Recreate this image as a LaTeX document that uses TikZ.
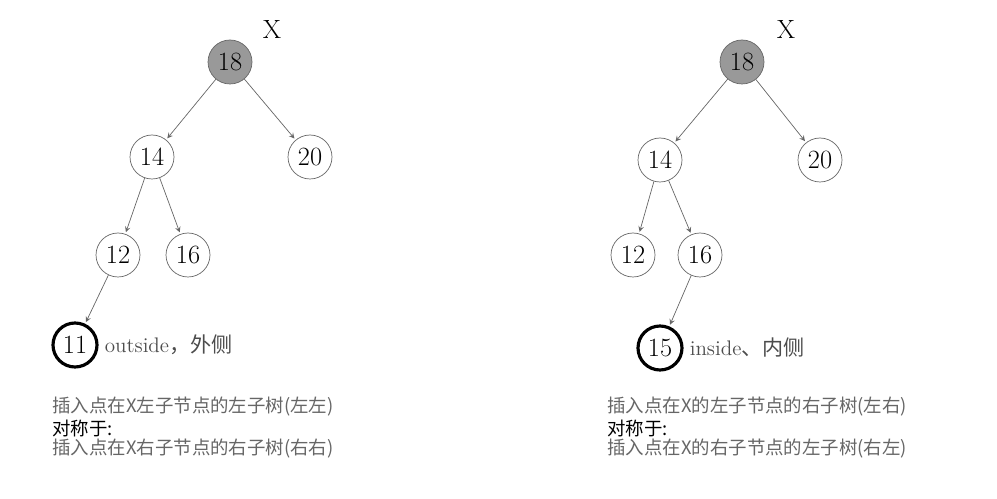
\documentclass[tikz,border=0pt]{standalone}
\usepackage{fontspec}
\newfontfamily\cjk{Noto Sans CJK SC}
\begin{document}
\begin{tikzpicture}[x=0.02cm,y=-0.02cm,
    key/.style={circle, draw=black!60, minimum size=0.88cm, inner sep=0pt, font=\fontsize{15}{15}\selectfont},
    root/.style={key, fill=black!40},
    new/.style={key, draw=black, line width=1.8pt},
    edge/.style={->, >=stealth, black!60, shorten >=1pt},
    note/.style={anchor=west, font=\fontsize{12}{12}\selectfont, text=black!70},
    rule/.style={anchor=west, inner sep=0pt, font=\cjk\fontsize{10.5}{10.5}\selectfont, text=black!60}]
    \useasboundingbox (0,0) rectangle (997,499);
    % Left tree: outside case
    \node[root] (L18) at (230,62) {18};
    \node[key] (L14) at (152,157) {14};
    \node[key] (L20) at (310,157) {20};
    \node[key] (L12) at (118,255) {12};
    \node[key] (L16) at (188,255) {16};
    \node[new] (L11) at (75,345) {11};
    \node[font=\fontsize{15}{15}\selectfont] (LX) at (272,30) {X};
    \node[note] (Lnote) at (L11.east) {outside\cjk，外侧};

    \draw[edge] (L18) -- (L14);
    \draw[edge] (L18) -- (L20);
    \draw[edge] (L14) -- (L12);
    \draw[edge] (L14) -- (L16);
    \draw[edge] (L12) -- (L11);

    % Right tree: inside case
    \node[root] (R18) at (742,62) {18};
    \node[key] (R14) at (660,160) {14};
    \node[key] (R20) at (820,160) {20};
    \node[key] (R12) at (633,255) {12};
    \node[key] (R16) at (700,255) {16};
    \node[new] (R15) at (660,348) {15};
    \node[font=\fontsize{15}{15}\selectfont] (RX) at (786,30) {X};
    \node[note] (Rnote) at (R15.east) {inside\cjk、内侧};

    \draw[edge] (R18) -- (R14);
    \draw[edge] (R18) -- (R20);
    \draw[edge] (R14) -- (R12);
    \draw[edge] (R14) -- (R16);
    \draw[edge] (R16) -- (R15);

    % Rules
    \node[rule] (La) at (52,407) {插入点在X左子节点的左子树(左左)};
    \node[rule, text=black] (Lb) at (52,428) {对称于:};
    \node[rule] (Lc) at (52,449) {插入点在X右子节点的右子树(右右)};
    \node[rule] (Ra) at (607,407) {插入点在X的左子节点的右子树(左右)};
    \node[rule, text=black] (Rb) at (607,428) {对称于:};
    \node[rule] (Rc) at (607,449) {插入点在X的右子节点的左子树(右左)};
\end{tikzpicture}
\end{document}
